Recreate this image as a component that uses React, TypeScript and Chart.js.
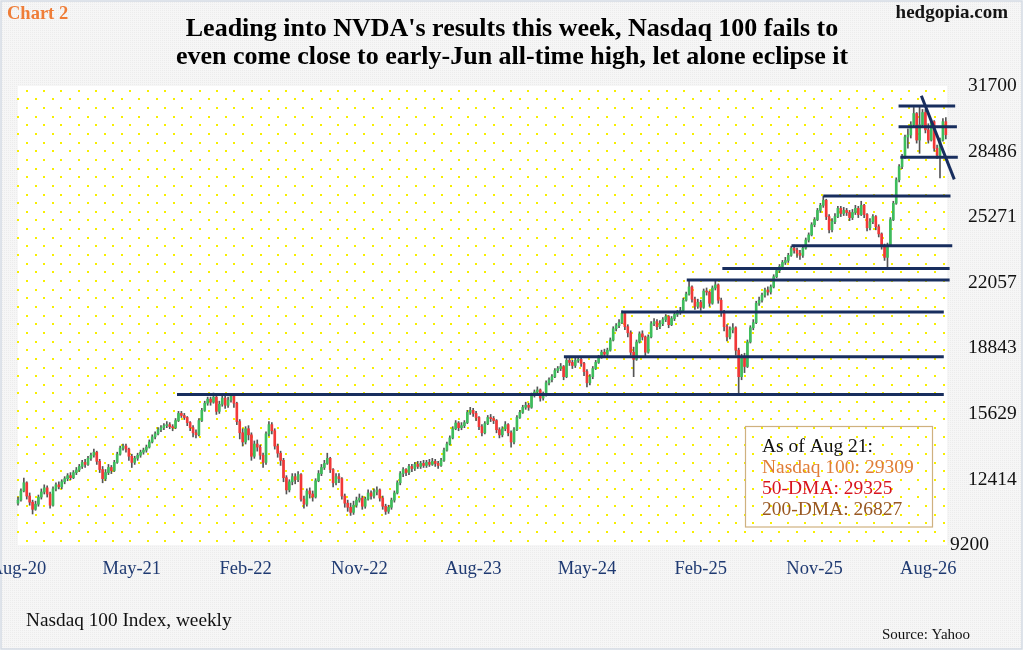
import React, { useEffect, useRef } from "react";
import { Chart, registerables } from "chart.js";

Chart.register(...registerables);

// Nasdaq 100, weekly bars (close / high / low)
const closes = [
  11400, 11850, 12250, 11600, 11300, 10950, 11200, 11550, 11800, 12000,
  11700, 11150, 11950, 12150, 12050, 12300, 12450, 12600, 12500, 12750,
  12880, 13050, 13250, 13150, 13450, 13600, 13750, 13300, 12900, 12450,
  12750, 13000, 12850, 13250, 13650, 13950, 14050, 13900, 13550, 13250,
  13450, 13600, 13750, 13850, 14000, 14250, 14500, 14650, 14850, 14950,
  15050, 15100, 15000, 14950, 15300, 15650, 15550, 15450, 15200, 14950,
  14700, 14600, 15300, 15800, 16150, 16350, 16200, 16450, 15750, 16100,
  16400, 16050, 16300, 16500, 16150, 15250, 14700, 14250, 14900, 14600,
  13550, 14150, 14000, 13600, 13250, 14650, 15100, 14800, 14050, 13700,
  13350, 12500, 11900, 12300, 12550, 12400, 12650, 11450, 11200, 11850,
  11700, 11550, 12350, 12700, 13000, 13200, 13450, 12900, 12250, 12550,
  12450, 11600, 11250, 11050, 10800, 11150, 11400, 11500, 11100, 11450,
  11750, 11600, 11800, 11900, 11500, 11100, 10850, 11050, 11400, 11750,
  12250, 12700, 12900, 12750, 13050, 12950, 13150, 13050, 13200, 13100,
  13250, 13150, 13300, 13200, 13100, 13350, 13850, 14150, 14450, 14900,
  15180, 14950, 15050, 15200, 15700, 15800, 15650, 15450, 15000, 14700,
  15150, 15450, 15400, 15300, 14850, 14600, 14900, 15100, 14700, 14250,
  14850, 15450, 15700, 15950, 16050, 15950, 16550, 16700, 16800, 16400,
  16550, 17150, 17300, 17450, 17750, 17850, 17950, 17450, 18250, 18150,
  18000, 18250, 18300, 18100, 17700, 17150, 17450, 17850, 18150, 18400,
  18650, 18550, 18750, 19250, 19800, 19950, 20100, 20550, 19900, 19600,
  18650, 18300, 19150, 19550, 19400, 18650, 19400, 20050, 20150, 19900,
  20050, 20250, 20400, 20000, 20300, 20500, 20600, 20700, 21200, 21500,
  21850, 21250, 20900, 21100, 20850, 21650, 21600, 21050, 21800, 21950,
  21200, 20600, 19900, 19400, 19750, 19850, 18750, 17450, 18400, 17950,
  19150, 19850, 20100, 21050, 21200, 21450, 21700, 21600, 21850, 22350,
  22650, 22850, 23050, 23150, 23400, 23750, 23650, 23500, 23400, 23750,
  24150, 24400, 24900, 25150, 25600, 25850, 26100, 25300, 24650, 25050,
  25300, 25700, 25450, 25600, 25500, 25250, 25500, 25700, 25400, 25850,
  25400, 24750, 25050, 25300, 24800, 24450, 23850, 23300, 23900, 25150,
  25950, 27100, 27750, 28200, 29200, 29300, 29800, 30350, 29050, 29800,
  30400, 29550, 29050, 29950, 28650, 28300, 29050, 29950, 29309,
];

const highs = [
  11550, 11950, 12480, 12300, 11750, 11400, 11350, 11650, 11950, 12150,
  12100, 11800, 12050, 12250, 12300, 12400, 12550, 12700, 12750, 12850,
  13000, 13150, 13350, 13400, 13550, 13700, 13900, 13800, 13400, 13050,
  12900, 13150, 13100, 13350, 13750, 14050, 14150, 14150, 13950, 13650,
  13550, 13700, 13850, 13950, 14100, 14350, 14600, 14750, 14950, 15050,
  15150, 15250, 15200, 15100, 15400, 15750, 15750, 15650, 15500, 15250,
  15050, 14850, 15400, 15900, 16250, 16450, 16450, 16650, 16500, 16250,
  16550, 16500, 16450, 16600, 16550, 16200, 15350, 14900, 15000, 15050,
  14700, 14300, 14350, 14100, 13700, 14750, 15250, 15200, 14900, 14150,
  13800, 13450, 12600, 12400, 12700, 12700, 12800, 12700, 11600, 11950,
  12000, 11850, 12450, 12850, 13150, 13350, 13700, 13500, 12950, 12700,
  12700, 12500, 11700, 11400, 11250, 11350, 11550, 11700, 11600, 11550,
  11900, 11850, 11950, 12050, 11950, 11600, 11200, 11150, 11500, 11850,
  12350, 12800, 13000, 12950, 13150, 13150, 13250, 13300, 13300, 13350,
  13350, 13400, 13450, 13400, 13300, 13450, 13950, 14250, 14550, 15000,
  15300, 15250, 15200, 15300, 15800, 15950, 15900, 15750, 15500, 15100,
  15250, 15550, 15600, 15500, 15350, 14950, 15000, 15250, 15150, 14800,
  14950, 15550, 15800, 16050, 16200, 16150, 16650, 16800, 16950, 16850,
  16700, 17250, 17400, 17550, 17850, 17950, 18100, 18000, 18350, 18400,
  18250, 18350, 18450, 18400, 18150, 17800, 17550, 17950, 18250, 18500,
  18750, 18800, 18850, 19350, 19900, 20050, 20250, 20680, 20600, 20000,
  19700, 18900, 19250, 19650, 19700, 19450, 19500, 20150, 20300, 20250,
  20200, 20350, 20500, 20450, 20400, 20600, 20700, 20850, 21300, 21600,
  22150, 21900, 21350, 21250, 21200, 21750, 21800, 21650, 21900, 22150,
  22000, 21300, 20700, 20000, 19900, 20050, 19900, 18850, 18550, 18600,
  19250, 19950, 20250, 21150, 21350, 21550, 21800, 21850, 21950, 22450,
  22750, 22950, 23150, 23300, 23500, 23850, 23900, 23750, 23650, 23850,
  24250, 24500, 25000, 25250, 25700, 25950, 26300, 26150, 25400, 25200,
  25450, 25800, 25800, 25750, 25700, 25600, 25650, 25850, 25800, 26050,
  25900, 25450, 25200, 25400, 25350, 24900, 24500, 23950, 24000, 25250,
  26050, 27200, 27850, 28350, 29300, 29600, 29950, 30650, 30400, 30700,
  30550, 30550, 29850, 30050, 30000, 28800, 29150, 30100, 30150,
];

const lows = [
  11150, 11350, 11800, 11450, 11150, 10720, 10900, 11100, 11450, 11700,
  11550, 11000, 11100, 11850, 11950, 11950, 12200, 12350, 12400, 12450,
  12650, 12800, 12950, 13000, 13100, 13350, 13500, 13150, 12750, 12250,
  12350, 12650, 12700, 12800, 13200, 13600, 13850, 13750, 13350, 13000,
  13150, 13350, 13500, 13650, 13750, 13950, 14200, 14400, 14600, 14750,
  14850, 14950, 14900, 14800, 14900, 15250, 15450, 15350, 15050, 14800,
  14500, 14450, 14550, 15250, 15750, 16050, 16050, 16150, 15600, 15650,
  16000, 15900, 15950, 16200, 15950, 15100, 14400, 14050, 14150, 14350,
  13350, 13450, 13800, 13400, 13000, 13150, 14550, 14650, 13900, 13500,
  13100, 12300, 11700, 11800, 12150, 12200, 12300, 11350, 11000, 11100,
  11500, 11350, 11500, 12300, 12600, 12900, 13150, 12750, 12050, 12150,
  12250, 11450, 11050, 10850, 10650, 10700, 11050, 11300, 10950, 11000,
  11400, 11450, 11500, 11650, 11350, 10950, 10700, 10750, 10950, 11300,
  11700, 12150, 12550, 12600, 12650, 12800, 12850, 12950, 12950, 13000,
  13000, 13050, 13100, 13050, 12950, 13050, 13300, 13800, 14100, 14400,
  14850, 14800, 14850, 14950, 15150, 15600, 15500, 15300, 14850, 14550,
  14650, 15100, 15250, 15150, 14700, 14450, 14500, 14800, 14550, 14000,
  14150, 14800, 15400, 15650, 15850, 15800, 15900, 16450, 16600, 16250,
  16300, 16500, 17050, 17200, 17400, 17650, 17750, 17300, 17400, 18000,
  17850, 17900, 18150, 17950, 17500, 16950, 17050, 17350, 17800, 18100,
  18350, 18400, 18450, 18700, 19200, 19700, 19850, 20050, 19750, 19400,
  18500, 17450, 18250, 19100, 19250, 18450, 18600, 19350, 19950, 19750,
  19800, 19950, 20150, 19850, 19950, 20200, 20400, 20500, 20650, 21150,
  21450, 21100, 20750, 20800, 20700, 20800, 21450, 20900, 21000, 21700,
  21050, 20400, 19700, 19200, 19300, 19600, 18500, 16650, 17300, 17650,
  17900, 19100, 19750, 20050, 20950, 21100, 21350, 21450, 21500, 21800,
  22300, 22550, 22750, 22950, 23050, 23350, 23500, 23300, 23200, 23300,
  23700, 24050, 24350, 24800, 25100, 25500, 25750, 25150, 24500, 24550,
  24950, 25250, 25300, 25350, 25350, 25100, 25150, 25400, 25250, 25350,
  25250, 24600, 24650, 24950, 24650, 24300, 23700, 23150, 22800, 23850,
  25100, 25900, 27000, 27650, 28150, 28650, 29150, 29700, 28900, 28400,
  29700, 29400, 28900, 29000, 28500, 28150, 27200, 29000, 29100,
];

// open of the first week; later weeks open at the prior close
const firstOpen = 11250;

const xTickWeeks = [0, 39, 78, 117, 156, 195, 234, 273, 312];
const xTickLabels = ["Aug-20", "May-21", "Feb-22", "Nov-22", "Aug-23", "May-24", "Feb-25", "Nov-25", "Aug-26"];
const yTicks = [9200, 12414, 15629, 18843, 22057, 25271, 28486, 31700];

// support / resistance lines: [from week, to week, level]
const levels = [
  [54.5, 317.3, 16580],
  [187.1, 317.3, 18430],
  [206.8, 317.3, 20620],
  [229.2, 319.3, 22190],
  [241.4, 319.3, 22760],
  [265.1, 320.2, 23870],
  [276.0, 319.6, 26310],
  [302.4, 322.1, 28205],
  [301.8, 321.8, 29705],
  [301.8, 321.2, 30720],
];
// falling trend line: [week, level] at each end
const trendLine = [
  [309.6, 31225],
  [320.9, 27125],
];

const titleLines = [
  "Leading into NVDA's results this week, Nasdaq 100 fails to",
  "even come close to early-Jun all-time high, let alone eclipse it",
];
const noteLines = ["As of Aug 21:", "Nasdaq 100: 29309", "50-DMA: 29325", "200-DMA: 26827"];
const noteColors = ["#111111", "#e07d38", "#d8141e", "#995821"];

const SERIF = "'Liberation Serif', 'Times New Roman', serif";
const NAVY = "#182e5e";

const makeTexture = () => {
  const tile = document.createElement("canvas");
  tile.width = 4;
  tile.height = 4;
  const t = tile.getContext("2d")!;
  t.fillStyle = "#f6f6f6";
  t.fillRect(0, 0, 4, 4);
  t.fillStyle = "#ececec";
  t.fillRect(0, 0, 1, 1);
  t.fillRect(2, 2, 1, 1);
  t.fillRect(2, 0, 1, 1);
  t.fillRect(0, 2, 1, 1);
  return tile;
};

const decor = {
  id: "decor",
  beforeDraw(chart: any) {
    const { ctx, chartArea: a, width, height } = chart;
    ctx.save();
    ctx.fillStyle = "#ffffff";
    ctx.fillRect(0, 0, width, height);
    ctx.fillStyle = ctx.createPattern(makeTexture(), "repeat");
    ctx.fillRect(1, 1, 1021, 648);
    ctx.strokeStyle = "#d3dae3";
    ctx.lineWidth = 1.5;
    ctx.strokeRect(1, 1, 1021, 648);

    ctx.fillStyle = "#ffffff";
    ctx.fillRect(a.left, a.top, a.right - a.left, a.bottom - a.top);
    // dotted yellow plot background
    ctx.fillStyle = "#f7ef00";
    for (let r = 0; ; r++) {
      const y = a.top + 4.7 + r * 8.65;
      if (y > a.bottom - 2) break;
      for (let x = a.left + (r % 2 === 0 ? 8.65 : 0.3); x <= a.right; x += 17.3) {
        ctx.fillRect(Math.round(x) - 1, Math.round(y) - 1, 2, 2);
      }
    }
    ctx.restore();
  },
  afterDraw(chart: any) {
    const { ctx } = chart;
    ctx.save();
    ctx.textBaseline = "alphabetic";

    ctx.fillStyle = "#ef7d37";
    ctx.font = `bold 18.5px ${SERIF}`;
    ctx.textAlign = "left";
    ctx.fillText("Chart 2", 7, 18.5);

    ctx.fillStyle = "#151515";
    ctx.font = `bold 19px ${SERIF}`;
    ctx.textAlign = "right";
    ctx.fillText("hedgopia.com", 1008, 18);

    ctx.fillStyle = "#000000";
    ctx.font = `bold 26px ${SERIF}`;
    ctx.textAlign = "center";
    ctx.fillText(titleLines[0], 512, 36);
    ctx.fillText(titleLines[1], 512, 63.5);

    ctx.textAlign = "left";
    ctx.fillStyle = "#111111";
    ctx.font = `19.3px ${SERIF}`;
    ctx.fillText("Nasdaq 100 Index, weekly", 26, 626);
    ctx.font = `15px ${SERIF}`;
    ctx.fillText("Source: Yahoo", 882, 639);

    // note box
    ctx.strokeStyle = "#cfb17f";
    ctx.lineWidth = 1.2;
    ctx.strokeRect(745.5, 426.5, 187, 100.5);
    ctx.font = `19.5px ${SERIF}`;
    noteLines.forEach((line, i) => {
      ctx.fillStyle = noteColors[i];
      ctx.fillText(line, 762, 451.7 + i * 21.1);
    });

    // bottom y label sits a little left of the others
    const yScale = chart.scales.y;
    ctx.fillStyle = "#111111";
    ctx.font = `19.5px ${SERIF}`;
    ctx.textBaseline = "middle";
    ctx.fillText(String(yTicks[0]), 950, yScale.getPixelForValue(yTicks[0]));
    ctx.restore();
  },
};

export default function App() {
  const canvasRef = useRef<HTMLCanvasElement>(null);

  useEffect(() => {
    document.body.style.margin = "0";
    if (!canvasRef.current) return;

    const opens = closes.map((_, i) => (i === 0 ? firstOpen : closes[i - 1]));

    const wickData = closes.map((_, i) => ({ x: i, y: [lows[i], highs[i]] }));
    const bodyData = closes.map((c, i) => ({ x: i, y: [opens[i], c] }));
    const bodyColors = closes.map((c, i) => (c >= opens[i] ? "#3dbd5c" : "#f23838"));

    const lineSets: any[] = levels.map(([from, to, level]) => ({
      type: "line",
      data: [
        { x: from, y: level },
        { x: to, y: level },
      ],
      borderColor: NAVY,
      borderWidth: 3,
      pointRadius: 0,
      clip: false,
      order: 0,
    }));
    lineSets.push({
      type: "line",
      data: trendLine.map(([x, y]) => ({ x, y })),
      borderColor: NAVY,
      borderWidth: 3,
      pointRadius: 0,
      clip: false,
      order: 0,
    });

    const chart = new Chart(canvasRef.current, {
      type: "bar",
      data: {
        datasets: [
          ...lineSets,
          {
            type: "bar",
            data: bodyData,
            backgroundColor: bodyColors,
            barThickness: 2,
            grouped: false,
            borderWidth: 0,
            clip: false,
            order: 1,
          },
          {
            type: "bar",
            data: wickData,
            backgroundColor: "#555555",
            barThickness: 1,
            grouped: false,
            borderWidth: 0,
            clip: false,
            order: 2,
          },
        ],
      } as any,
      options: {
        animation: false,
        responsive: false,
        events: [],
        layout: { padding: { top: 86, left: 18, right: 0, bottom: 71 }, autoPadding: false },
        plugins: {
          legend: { display: false },
          tooltip: { enabled: false },
        },
        scales: {
          x: {
            type: "linear",
            min: 0,
            max: 318.4,
            offset: false,
            grid: { display: false, drawTicks: false },
            border: { display: false },
            afterBuildTicks: (scale: any) => {
              scale.ticks = xTickWeeks.map((v) => ({ value: v }));
            },
            afterFit: (scale: any) => {
              scale.height = 40;
              scale.paddingLeft = 0;
              scale.paddingRight = 0;
            },
            ticks: {
              autoSkip: false,
              maxRotation: 0,
              padding: 13,
              color: "#1f3a72",
              font: { family: SERIF, size: 18.5 },
              callback: (_v: any, i: number) => xTickLabels[i],
            },
          },
          y: {
            type: "linear",
            position: "right",
            min: 9200,
            max: 31700,
            grid: { display: false, drawTicks: false },
            border: { display: false },
            afterBuildTicks: (scale: any) => {
              scale.ticks = yTicks.map((v) => ({ value: v }));
            },
            afterFit: (scale: any) => {
              scale.width = 77;
              scale.paddingTop = 0;
              scale.paddingBottom = 0;
            },
            ticks: {
              padding: 21,
              color: "#111111",
              font: { family: SERIF, size: 19.5 },
              callback: (_v: any, i: number) => (i === 0 ? "" : String(yTicks[i])),
            },
          },
        },
      } as any,
      plugins: [decor],
    });

    return () => chart.destroy();
  }, []);

  return (
    <div style={{ width: 1024, height: 656 }}>
      <canvas ref={canvasRef} width={1024} height={656} style={{ display: "block" }} />
    </div>
  );
}
